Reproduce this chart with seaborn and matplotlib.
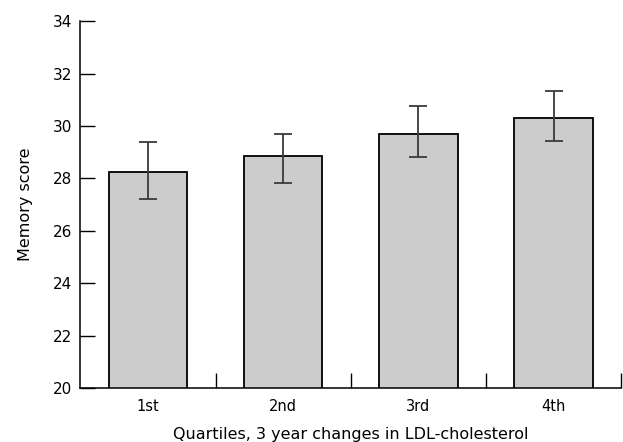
import numpy as np
import pandas as pd
import matplotlib
matplotlib.use("Agg")
from matplotlib import pyplot as plt
import seaborn as sns

sns.set_style("white")
plt.rcParams['font.family'] = ['DejaVu Sans']
plt.rcParams.update({'text.color': 'black', 'axes.labelcolor': 'black',
                     'xtick.color': 'black', 'ytick.color': 'black'})

# values
quartiles = ['1st', '2nd', '3rd', '4th']
memory_score = [28.25, 28.87, 29.71, 30.30]
err_low = [27.22, 27.83, 28.83, 29.41]
err_high = [29.40, 29.69, 30.75, 31.33]

df = pd.DataFrame({'quartile': quartiles, 'score': memory_score})

fig = plt.figure(figsize=(6.23, 4.42), dpi=100)
ax = fig.add_axes([0.129, 0.122, 0.868, 0.830])

sns.barplot(data=df, x='quartile', y='score', ax=ax, color='#cccccc',
            saturation=1, edgecolor='black', linewidth=1.3, width=0.58,
            errorbar=None)

scores = np.array(memory_score)
yerr = np.vstack([scores - np.array(err_low), np.array(err_high) - scores])
ax.errorbar(np.arange(len(quartiles)), scores, yerr=yerr, fmt='none',
            ecolor='#3a3a3a', elinewidth=1.3, capsize=6.5, capthick=1.3)

ax.set_ylim(20, 34)
ax.set_xlim(-0.5, 3.5)
ax.set_yticks(np.arange(20, 35, 2))
ax.tick_params(axis='y', direction='in', length=11, width=1, labelsize=11,
               left=True, pad=6)
# category labels at centres, boundary ticks between categories
ax.tick_params(axis='x', which='major', length=0, labelsize=10.5, pad=8)
ax.set_xticks([0.5, 1.5, 2.5, 3.5], minor=True)
ax.tick_params(axis='x', which='minor', direction='in', length=11, width=1,
               bottom=True)

ax.set_xlabel('Quartiles, 3 year changes in LDL-cholesterol', fontsize=11.5,
              labelpad=9)
ax.set_ylabel('Memory score', fontsize=11.5, labelpad=14)

sns.despine(ax=ax)
for s in ['left', 'bottom']:
    ax.spines[s].set_color('black')
    ax.spines[s].set_linewidth(1.1)

fig.savefig('out.png', dpi=100)
